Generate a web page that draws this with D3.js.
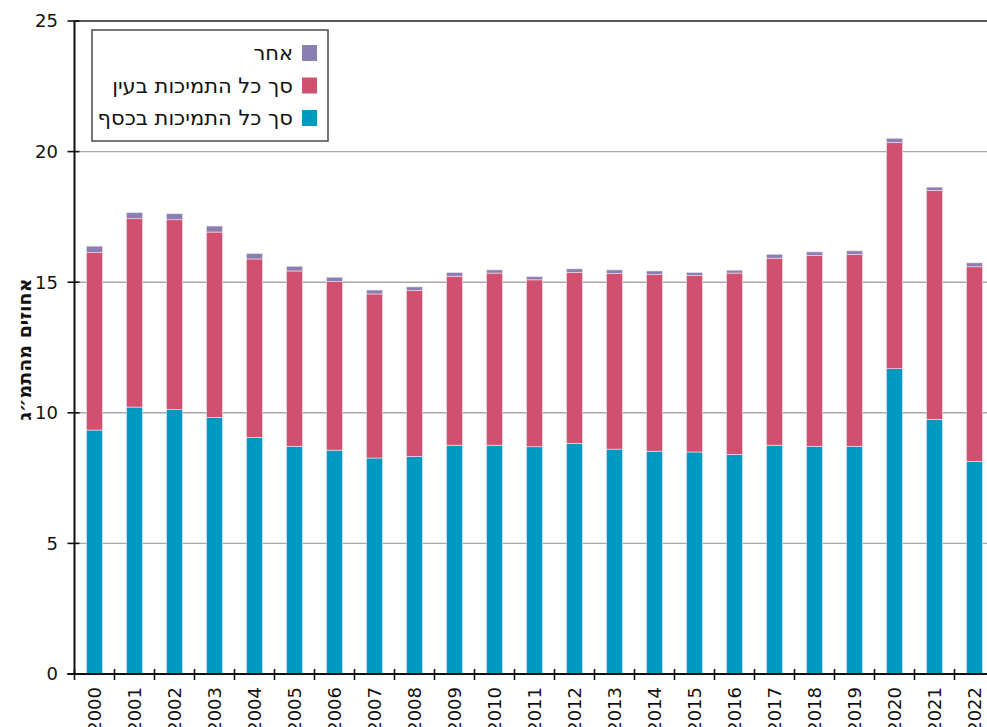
<!DOCTYPE html>
<html>
<head>
<meta charset="utf-8">
<script src="https://cdn.jsdelivr.net/npm/d3@7"></script>
<style>
  body { margin: 0; background: #fff; }
  svg { display: block; }
</style>
</head>
<body>
<svg id="chart" width="987" height="727"></svg>
<script>
// data (percent of GDP)
const years = ['2000', '2001', '2002', '2003', '2004', '2005', '2006', '2007', '2008', '2009', '2010', '2011',
    '2012', '2013', '2014', '2015', '2016', '2017', '2018', '2019', '2020', '2021', '2022'];
const cash = [9.34, 10.22, 10.12, 9.82, 9.06, 8.72, 8.57, 8.27, 8.33, 8.76, 8.76, 8.70,
    8.83, 8.61, 8.53, 8.50, 8.40, 8.76, 8.72, 8.72, 11.69, 9.75, 8.14];
const inKind = [6.79, 7.21, 7.27, 7.10, 6.83, 6.71, 6.45, 6.28, 6.35, 6.47, 6.59, 6.39,
    6.55, 6.72, 6.76, 6.75, 6.95, 7.16, 7.30, 7.34, 8.66, 8.76, 7.45];
const other = [0.25, 0.23, 0.23, 0.23, 0.21, 0.18, 0.17, 0.15, 0.14, 0.14, 0.12, 0.12,
    0.13, 0.14, 0.14, 0.12, 0.11, 0.15, 0.14, 0.14, 0.16, 0.13, 0.15];
const seriesNames = ['סך כל התמיכות בכסף', 'סך כל התמיכות בעין', 'אחר'];
const yTicks = [0, 5, 10, 15, 20, 25];
const yTitle = 'אחוזים מהתמ״ג';

const COLORS = ['#009ac0', '#d1506f', '#8a7fb0'];
const LEFT = 74.5, TOP = 21, BOTTOM = 674;
const STEP = 40;
const FONT = 'DejaVu Sans, sans-serif';

const svg = d3.select('#chart');

const rows = years.map((y, i) => ({ year: y, cash: cash[i], inKind: inKind[i], other: other[i] }));
const keys = ['cash', 'inKind', 'other'];
const stacked = d3.stack().keys(keys)(rows);

const x = d3.scaleBand()
    .domain(years)
    .range([LEFT, LEFT + STEP * years.length])
    .paddingInner(0.6)
    .paddingOuter(0.3);

const y = d3.scaleLinear().domain([0, 25]).range([BOTTOM, TOP]);

// grid lines
svg.append('g')
    .selectAll('line')
    .data(yTicks.filter(d => d > 0))
    .join('line')
    .attr('x1', LEFT)
    .attr('x2', 987)
    .attr('y1', d => y(d))
    .attr('y2', d => y(d))
    .attr('stroke', d => d === 25 ? '#222' : '#a8a8a8')
    .attr('stroke-width', d => d === 25 ? 1.6 : 1.4);

// bars
const layers = svg.append('g')
    .selectAll('g')
    .data(stacked)
    .join('g')
    .attr('fill', (d, i) => COLORS[i]);

layers.selectAll('rect')
    .data(d => d)
    .join('rect')
    .attr('x', d => x(d.data.year))
    .attr('width', x.bandwidth())
    .attr('y', d => y(d[1]))
    .attr('height', d => y(d[0]) - y(d[1]))
    .attr('stroke', '#f0e4ee')
    .attr('stroke-width', 0.6);

// y axis
svg.append('line')
    .attr('x1', LEFT).attr('x2', LEFT)
    .attr('y1', TOP).attr('y2', BOTTOM)
    .attr('stroke', '#111').attr('stroke-width', 2);

svg.append('g')
    .selectAll('line')
    .data(yTicks)
    .join('line')
    .attr('x1', LEFT - 7).attr('x2', LEFT + 5)
    .attr('y1', d => y(d)).attr('y2', d => y(d))
    .attr('stroke', '#111').attr('stroke-width', 1.6);

svg.append('g')
    .selectAll('text')
    .data(yTicks)
    .join('text')
    .text(d => d)
    .attr('x', 58)
    .attr('y', d => y(d))
    .attr('dy', '0.35em')
    .attr('text-anchor', 'end')
    .attr('font-family', FONT)
    .attr('font-size', 18)
    .attr('fill', '#111');

svg.append('text')
    .text(yTitle)
    .attr('transform', `translate(24,${(TOP + BOTTOM) / 2 + 2}) rotate(-90)`)
    .attr('text-anchor', 'middle')
    .attr('dy', '0.35em')
    .attr('font-family', FONT)
    .attr('font-weight', 'bold')
    .attr('font-size', 19)
    .attr('fill', '#111');

// x axis
svg.append('line')
    .attr('x1', LEFT - 7).attr('x2', 987)
    .attr('y1', BOTTOM).attr('y2', BOTTOM)
    .attr('stroke', '#111').attr('stroke-width', 2);

svg.append('g')
    .selectAll('line')
    .data(d3.range(years.length + 1))
    .join('line')
    .attr('x1', i => LEFT + i * x.step())
    .attr('x2', i => LEFT + i * x.step())
    .attr('y1', BOTTOM - 5).attr('y2', BOTTOM + 6)
    .attr('stroke', '#111').attr('stroke-width', 1.6);

// year labels run past the bottom edge, as in the original
svg.append('g')
    .selectAll('text')
    .data(years)
    .join('text')
    .text(d => d)
    .attr('transform', d => `translate(${x(d) + x.bandwidth() / 2},687) rotate(-90)`)
    .attr('text-anchor', 'end')
    .attr('dy', '0.35em')
    .attr('font-family', FONT)
    .attr('font-size', 18)
    .attr('fill', '#111');

// legend
const legend = svg.append('g');
legend.append('rect')
    .attr('x', 92).attr('y', 30)
    .attr('width', 236).attr('height', 111)
    .attr('fill', '#fff')
    .attr('stroke', '#555')
    .attr('stroke-width', 1.6);

const legendOrder = [2, 1, 0];
legendOrder.forEach((s, row) => {
    const cy = 53 + row * 32.5;
    legend.append('rect')
        .attr('x', 302).attr('y', cy - 8)
        .attr('width', 15).attr('height', 16)
        .attr('fill', COLORS[s]);
    legend.append('text')
        .text(seriesNames[s])
        .attr('x', 293)
        .attr('y', cy)
        .attr('dy', '0.35em')
        .attr('text-anchor', 'end')
        .attr('font-family', FONT)
        .attr('font-size', 21)
        .attr('fill', '#111');
});
</script>
</body>
</html>
